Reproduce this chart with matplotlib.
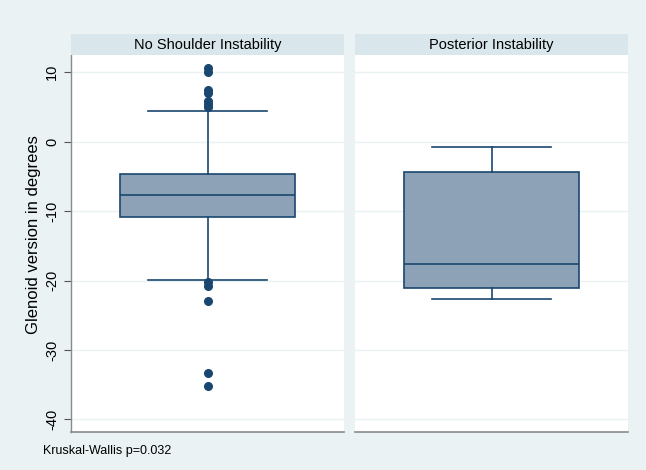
import matplotlib
matplotlib.use("Agg")
import matplotlib.pyplot as plt

plt.rcParams['font.family'] = ['Liberation Sans', 'DejaVu Sans']
plt.rcParams['axes.unicode_minus'] = False

groups = ["No Shoulder Instability", "Posterior Instability"]
# box statistics: whisker low, q1, median, q3, whisker high
whislo = [-19.9, -22.6]
q1 = [-10.8, -21.1]
med = [-7.7, -17.6]
q3 = [-4.7, -4.4]
whishi = [4.4, -0.8]
outliers = [
    [10.6, 10.0, 7.4, 7.0, 5.8, 5.4, 5.0, -20.2, -20.8, -22.9, -33.3, -35.2],
    [],
]
yticks = [10, 0, -10, -20, -30, -40]
ylabel = "Glenoid version in degrees"
note = "Kruskal-Wallis p=0.032"

BG = "#EAF2F3"
HEAD = "#D9E6EB"
EDGE = "#1A476F"
FILL = "#8DA2B7"

fig = plt.figure(figsize=(6.46, 4.70), dpi=100, facecolor=BG)

W, H = 646, 470
panels = [(71, 344), (355, 628)]
top_px, bot_px, head_top = 55, 432, 34
ylim = (-41.8, 12.45)

for i, (x0, x1) in enumerate(panels):
    ax = fig.add_axes([x0 / W, 1 - bot_px / H, (x1 - x0) / W, (bot_px - top_px) / H])
    ax.set_facecolor("white")
    stats = [dict(whislo=whislo[i], q1=q1[i], med=med[i], q3=q3[i],
                  whishi=whishi[i], fliers=outliers[i])]
    ax.bxp(stats, positions=[0], widths=0.64, patch_artist=True,
           boxprops=dict(facecolor=FILL, edgecolor=EDGE, linewidth=1.2),
           medianprops=dict(color=EDGE, linewidth=1.2),
           whiskerprops=dict(color=EDGE, linewidth=1.2),
           capprops=dict(color=EDGE, linewidth=1.2),
           capwidths=0.435,
           flierprops=dict(marker='o', markerfacecolor=EDGE, markeredgecolor=EDGE,
                           markersize=5.5, linestyle='none'),
           zorder=3)
    ax.set_xlim(-0.5, 0.5)
    ax.set_ylim(*ylim)
    ax.set_xticks([])
    ax.set_yticks(yticks)
    ax.grid(axis='y', color=BG, linewidth=1.0, zorder=0)
    ax.set_axisbelow(True)
    for s in ['top', 'right']:
        ax.spines[s].set_visible(False)
    ax.spines['bottom'].set_color('#8a8a8a')
    ax.spines['bottom'].set_linewidth(1.2)
    if i == 0:
        ax.spines['left'].set_color('#8a8a8a')
        ax.spines['left'].set_linewidth(1.0)
        ax.tick_params(axis='y', length=5, color='#555555', labelsize=10.5, pad=3.5)
        for lbl in ax.get_yticklabels():
            lbl.set_rotation(90)
            lbl.set_va('center')
        ax.set_ylabel(ylabel, fontsize=12, va='center')
        ax.yaxis.set_label_coords(-0.139, 0.523)
    else:
        ax.spines['left'].set_visible(False)
        ax.tick_params(axis='y', length=0, labelleft=False)
    # header strip
    hax = fig.add_axes([x0 / W, 1 - top_px / H, (x1 - x0) / W, (top_px - head_top) / H])
    hax.set_facecolor(HEAD)
    hax.set_xticks([]); hax.set_yticks([])
    for s in hax.spines.values():
        s.set_visible(False)
    hax.text(0.5, 0.5, groups[i], ha='center', va='center', fontsize=10.5,
             transform=hax.transAxes)

fig.text(43 / W, 1 - 451 / H, note, fontsize=9, ha='left', va='center')

fig.savefig("out.png", dpi=100, facecolor=BG)
